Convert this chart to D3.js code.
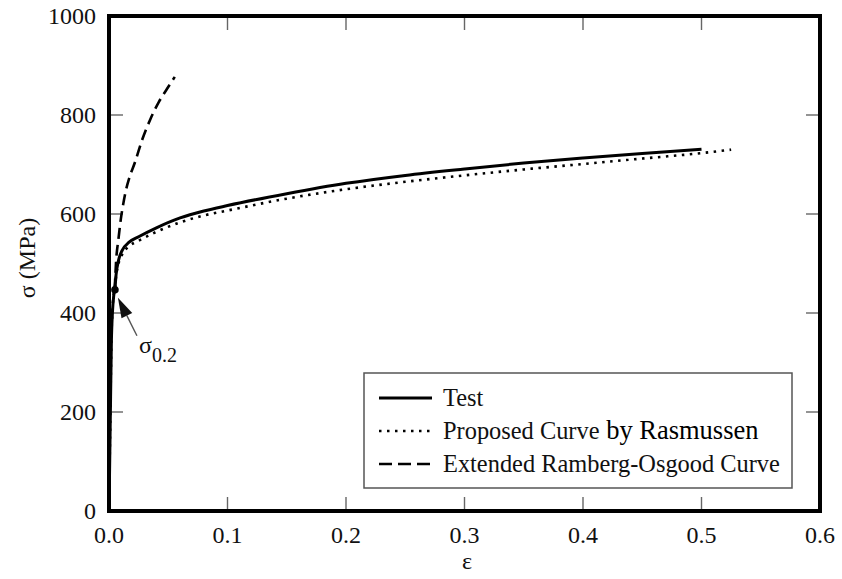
<!DOCTYPE html>
<html>
<head>
  <meta charset="utf-8">
  <title>Stress-strain curve</title>
  <script src="https://d3js.org/d3.v7.min.js"></script>
  <style>
    body { margin: 0; background: #fff; }
  </style>
</head>
<body>
  <svg id="chart"></svg>

  <script>
    // Data (strain, stress in MPa)
    const testStrain = [0, 0.001, 0.002, 0.003, 0.004, 0.005, 0.006, 0.008, 0.011, 0.017, 0.025, 0.04, 0.06, 0.08, 0.1, 0.15, 0.2, 0.25, 0.3, 0.35, 0.4, 0.45, 0.5];
    const testStress = [0, 170, 340, 405, 435, 450, 478, 506, 526, 543, 554, 572, 592, 606, 617, 641, 662, 678, 691, 703, 713, 722, 731];

    const propStrain = [0, 0.001, 0.002, 0.003, 0.004, 0.005, 0.006, 0.008, 0.011, 0.017, 0.025, 0.04, 0.06, 0.08, 0.1, 0.15, 0.2, 0.25, 0.3, 0.35, 0.4, 0.45, 0.5, 0.525];
    const propStress = [0, 175, 345, 410, 438, 452, 475, 500, 518, 535, 546, 564, 583, 597, 607, 631, 650, 665, 678, 690, 701, 712, 723, 730];

    const roStrain = [0.0048, 0.006, 0.008, 0.01, 0.012, 0.014, 0.017, 0.022, 0.028, 0.035, 0.042, 0.049, 0.0555];
    const roStress = [447, 505, 550, 590, 620, 645, 672, 705, 750, 792, 826, 853, 877];

    const sigma02 = { strain: 0.005, stress: 447 };

    const xTicks = [0, 0.1, 0.2, 0.3, 0.4, 0.5, 0.6];
    const xTickLabels = ["0.0", "0.1", "0.2", "0.3", "0.4", "0.5", "0.6"];
    const yTicks = [0, 200, 400, 600, 800, 1000];
    const yTickLabels = ["0", "200", "400", "600", "800", "1000"];

    const legendLabels = ["Test", "Proposed Curve", "Extended Ramberg-Osgood Curve"];
    const legendExtra = ["", "by Rasmussen", ""];

    // SVG
    const width = 842, height = 579;
    const font = "'Liberation Serif', 'DejaVu Serif', serif";
    const svg = d3.select("#chart")
                  .attr("width", width).attr("height", height)
                  .attr("font-family", font);

    const x = d3.scaleLinear().domain([0, 0.6]).range([109, 820]);
    const y = d3.scaleLinear().domain([0, 1000]).range([511, 16]);

    const zip = (a, b) => a.map((v, i) => [v, b[i]]);
    const line = d3.line()
                   .x(d => x(d[0]))
                   .y(d => y(d[1]))
                   .curve(d3.curveMonotoneX);

    // inner ticks on all four sides
    const tickLen = 14;
    const inner = svg.append("g").attr("stroke", "#666").attr("stroke-width", 1.4);
    xTicks.slice(1, -1).forEach(t => {
      inner.append("line").attr("x1", x(t)).attr("x2", x(t)).attr("y1", y(0)).attr("y2", y(0) - tickLen);
      inner.append("line").attr("x1", x(t)).attr("x2", x(t)).attr("y1", y(1000)).attr("y2", y(1000) + tickLen);
    });
    yTicks.slice(1, -1).forEach(t => {
      inner.append("line").attr("x1", x(0)).attr("x2", x(0) + tickLen).attr("y1", y(t)).attr("y2", y(t));
      inner.append("line").attr("x1", x(0.6)).attr("x2", x(0.6) - tickLen).attr("y1", y(t)).attr("y2", y(t));
    });

    // curves
    svg.append("path")
       .attr("d", line(zip(propStrain, propStress)))
       .attr("fill", "none").attr("stroke", "#000")
       .attr("stroke-width", 2.6).attr("stroke-dasharray", "2.5,5.5");

    svg.append("path")
       .attr("d", line(zip(testStrain, testStress)))
       .attr("fill", "none").attr("stroke", "#000").attr("stroke-width", 3);

    svg.append("path")
       .attr("d", line(zip(roStrain, roStress)))
       .attr("fill", "none").attr("stroke", "#000")
       .attr("stroke-width", 2.6).attr("stroke-dasharray", "11,6");

    // sigma 0.2 marker and arrow
    svg.append("circle")
       .attr("cx", x(sigma02.strain)).attr("cy", y(sigma02.stress))
       .attr("r", 3.8).attr("fill", "#000");

    const tip = [x(sigma02.strain) + 3, y(sigma02.stress) + 8];
    const tail = [tip[0] + 19, tip[1] + 38];
    const ang = Math.atan2(tail[1] - tip[1], tail[0] - tip[0]);
    const headL = 20, headW = 6;
    const bx = tip[0] + headL * Math.cos(ang), by = tip[1] + headL * Math.sin(ang);
    svg.append("line")
       .attr("x1", bx).attr("y1", by).attr("x2", tail[0]).attr("y2", tail[1])
       .attr("stroke", "#555").attr("stroke-width", 1.4);
    svg.append("path")
       .attr("d", `M${tip[0]},${tip[1]}L${bx - headW * Math.sin(ang)},${by + headW * Math.cos(ang)}L${bx + headW * Math.sin(ang)},${by - headW * Math.cos(ang)}Z`)
       .attr("fill", "#111");

    const sLabel = svg.append("text").attr("x", 139).attr("y", 353)
                      .attr("font-size", 24).attr("font-family", font).attr("fill", "#111");
    sLabel.append("tspan").text("σ");
    sLabel.append("tspan").attr("font-size", 20).attr("dy", 9).text("0.2");

    // frame
    svg.append("rect")
       .attr("x", x(0)).attr("y", y(1000))
       .attr("width", x(0.6) - x(0)).attr("height", y(0) - y(1000))
       .attr("fill", "none").attr("stroke", "#000").attr("stroke-width", 4);

    // tick labels
    svg.selectAll(".xlab")
       .data(xTicks)
       .enter()
       .append("text")
       .attr("class", "xlab")
       .attr("x", d => x(d)).attr("y", 543)
       .attr("text-anchor", "middle").attr("font-size", 24)
       .attr("font-family", font).attr("fill", "#111")
       .text((d, i) => xTickLabels[i]);

    svg.selectAll(".ylab")
       .data(yTicks)
       .enter()
       .append("text")
       .attr("class", "ylab")
       .attr("x", 96).attr("y", d => y(d)).attr("dy", "0.33em")
       .attr("text-anchor", "end").attr("font-size", 24)
       .attr("font-family", font).attr("fill", "#111")
       .text((d, i) => yTickLabels[i]);

    // axis titles
    svg.append("text")
       .attr("x", 467).attr("y", 569)
       .attr("text-anchor", "middle").attr("font-size", 24)
       .attr("font-family", font).attr("fill", "#111")
       .text("ε");
    svg.append("text")
       .attr("transform", "translate(35,258) rotate(-90)")
       .attr("text-anchor", "middle").attr("font-size", 24)
       .attr("font-family", font).attr("fill", "#111")
       .text("σ (MPa)");

    // legend
    const lg = svg.append("g");
    lg.append("rect")
      .attr("x", 364).attr("y", 373).attr("width", 428).attr("height", 115)
      .attr("fill", "#fff").attr("stroke", "#555").attr("stroke-width", 1.5);
    const dashes = [null, "2.5,5.5", "13,6"];
    legendLabels.forEach((lab, i) => {
      const ry = 398 + i * 33;
      lg.append("line")
        .attr("x1", 379).attr("x2", 432).attr("y1", ry).attr("y2", ry)
        .attr("stroke", "#000").attr("stroke-width", i === 0 ? 3 : 2.6)
        .attr("stroke-dasharray", dashes[i]);
      const t = lg.append("text")
        .attr("x", 443).attr("y", ry + 8)
        .attr("font-size", 24.4).attr("font-family", font).attr("fill", "#111");
      t.append("tspan").text(lab);
      if (legendExtra[i]) {
        t.append("tspan").attr("font-size", 26.5).attr("fill", "#000")
         .text(" " + legendExtra[i]);
      }
    });
  </script>
</body>
</html>
